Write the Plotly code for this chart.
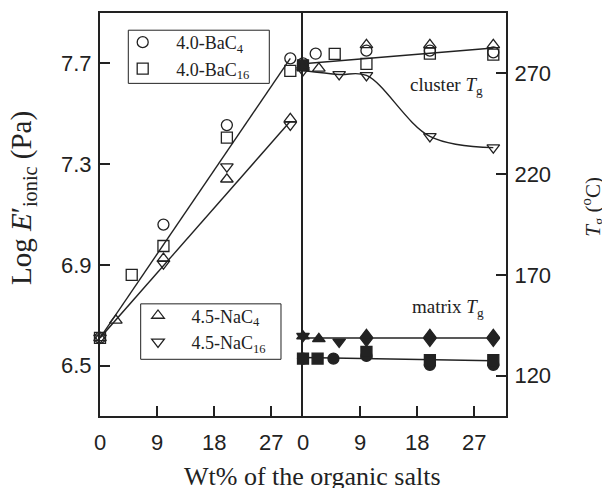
import plotly.graph_objects as go

# ---------------- data: left panel (Log E'ionic) ----------------
ba_c4_x = [0, 10, 20, 30]
ba_c4_logE = [6.61, 7.06, 7.455, 7.72]
ba_c16_x = [0, 5, 10, 20, 30]
ba_c16_logE = [6.61, 6.86, 6.975, 7.405, 7.67]
na_c4_x = [0, 2.5, 10, 20, 30]
na_c4_logE = [6.61, 6.68, 6.925, 7.24, 7.48]
na_c16_x = [0, 10, 20, 30]
na_c16_logE = [6.61, 6.905, 7.29, 7.456]
fit_x = [0, 30]
ba_fit_logE = [6.61, 7.72]
na_fit_logE = [6.61, 7.47]

# ---------------- data: right panel (Tg) ----------------
cl_ba_c4_x = [0, 2, 10, 20, 30]
cl_ba_c4_tg = [275, 279.8, 281.3, 281.3, 280.5]
cl_ba_c16_x = [0, 5, 10, 20, 30]
cl_ba_c16_tg = [274, 279.7, 274.8, 279.8, 279.3]
cl_na_c4_x = [0, 2.5, 10, 20, 30]
cl_na_c4_tg = [273, 272.5, 284.2, 284.2, 284.2]
cl_na_c16_x = [0, 5.7, 10, 20, 30]
cl_na_c16_tg = [271.5, 269.5, 269.0, 238.8, 233.2]
cl_fit_tg = [274.8, 282.6]

mx_ba_c4_x = [0, 4.8, 10, 20, 30]
mx_ba_c4_tg = [128.5, 128.5, 129.8, 125.4, 125.4]
mx_ba_c16_x = [0, 2.3, 10, 20, 30]
mx_ba_c16_tg = [128.5, 128.5, 131.8, 127.7, 127.7]
mx_na_c4_x = [0, 2.5, 10, 20, 30]
mx_na_c4_tg = [139.6, 138.3, 140.3, 140.3, 140.3]
mx_na_c16_x = [0, 5.7, 10, 20, 30]
mx_na_c16_tg = [139.6, 136.8, 137.3, 137.3, 137.3]
mx_top_fit_tg = [138.7, 138.7]
mx_bot_fit_tg = [129.0, 127.4]

x_ticks = [0, 9, 18, 27]
logE_ticks = [6.5, 6.9, 7.3, 7.7]
tg_ticks = [120, 170, 220, 270]

INK = "#222222"
SERIF = "Liberation Serif, Times New Roman, serif"
SANS = "Liberation Sans, Arial, sans-serif"
MS = 11

fig = go.Figure()


def line(x, y, xa, ya, shape="linear"):
    fig.add_trace(go.Scatter(x=x, y=y, mode="lines", xaxis=xa, yaxis=ya,
                             line=dict(color=INK, width=1.4, shape=shape),
                             showlegend=False, hoverinfo="skip"))


def pts(x, y, sym, xa, ya, name=None, legend=None):
    fig.add_trace(go.Scatter(
        x=x, y=y, mode="markers", xaxis=xa, yaxis=ya, name=name or "",
        showlegend=name is not None, legend=legend or "legend",
        cliponaxis=False,
        marker=dict(symbol=sym, size=MS, color=INK,
                    line=dict(color=INK, width=1.3))))


PAD = "&nbsp;&nbsp;&nbsp;"
# left panel
line(fit_x, ba_fit_logE, "x", "y")
line(fit_x, na_fit_logE, "x", "y")
pts(ba_c4_x, ba_c4_logE, "circle-open", "x", "y",
    PAD + "4.0-BaC<sub>4</sub>", "legend")
pts(ba_c16_x, ba_c16_logE, "square-open", "x", "y",
    PAD + "4.0-BaC<sub>16</sub>", "legend")
pts(na_c4_x, na_c4_logE, "triangle-up-open", "x", "y",
    PAD + "4.5-NaC<sub>4</sub>", "legend2")
pts(na_c16_x, na_c16_logE, "triangle-down-open", "x", "y",
    PAD + "4.5-NaC<sub>16</sub>", "legend2")

# right panel
line(fit_x, cl_fit_tg, "x2", "y2")
line(cl_na_c16_x, cl_na_c16_tg, "x2", "y2", shape="spline")
line(fit_x, mx_top_fit_tg, "x2", "y2")
line(fit_x, mx_bot_fit_tg, "x2", "y2")
pts(cl_ba_c4_x, cl_ba_c4_tg, "circle-open", "x2", "y2")
pts(cl_ba_c16_x, cl_ba_c16_tg,
    ["square"] + ["square-open"] * (len(cl_ba_c16_x) - 1), "x2", "y2")
pts(cl_na_c4_x, cl_na_c4_tg, "triangle-up-open", "x2", "y2")
pts(cl_na_c16_x, cl_na_c16_tg, "triangle-down-open", "x2", "y2")
pts(mx_ba_c4_x, mx_ba_c4_tg, "circle", "x2", "y2")
pts(mx_ba_c16_x, mx_ba_c16_tg, "square", "x2", "y2")
pts(mx_na_c4_x, mx_na_c4_tg, "triangle-up", "x2", "y2")
pts(mx_na_c16_x, mx_na_c16_tg, "triangle-down", "x2", "y2")

axis_common = dict(showline=True, linecolor=INK, linewidth=2,
                   ticks="inside", ticklen=10, tickwidth=2, tickcolor=INK,
                   showgrid=False, zeroline=False,
                   tickfont=dict(family=SANS, size=22, color=INK))

legend_style = dict(xanchor="left", yanchor="top",
                    bordercolor="rgba(0,0,0,0)", borderwidth=0,
                    bgcolor="rgba(0,0,0,0)",
                    font=dict(family=SERIF, size=18, color=INK),
                    tracegroupgap=0)

# the page body has an 8px margin: the figure is sized/offset to compensate
fig.update_layout(
    width=602, height=480,
    margin=dict(l=92, r=104, t=3, b=72),
    paper_bgcolor="white", plot_bgcolor="white",
    xaxis=dict(domain=[0, 0.5], range=[0, 32], tickvals=x_ticks,
               anchor="y", mirror=True, ticklabelstandoff=6, **axis_common),
    xaxis2=dict(domain=[0.5, 1], range=[0, 32], tickvals=x_ticks,
                anchor="y2", mirror=True, ticklabelstandoff=6, **axis_common),
    yaxis=dict(range=[6.3, 7.9], tickvals=logE_ticks, tickformat=".1f",
               anchor="x", mirror=False, ticklabelstandoff=2, **axis_common),
    yaxis2=dict(range=[100, 300], tickvals=tg_ticks, anchor="x2",
                side="right", mirror=True, ticklabelstandoff=2,
                **axis_common),
    legend=dict(x=0.0559, y=0.9728, **legend_style),
    legend2=dict(x=0.0936, y=0.2946, **legend_style),
    shapes=[
        dict(type="rect", xref="paper", yref="paper", layer="below",
             x0=0.0697, x1=0.417, y0=0.8254, y1=0.9573,
             line=dict(color=INK, width=1), fillcolor="white"),
        dict(type="rect", xref="paper", yref="paper", layer="below",
             x0=0.1002, x1=0.4458, y0=0.1407, y1=0.2783,
             line=dict(color=INK, width=1), fillcolor="white"),
    ],
    annotations=[
        dict(text="Wt% of the organic salts", xref="paper", yref="paper",
             x=0.524, y=-0.15, showarrow=False, xanchor="center",
             yanchor="middle", font=dict(family=SERIF, size=26, color=INK)),
        dict(text="Log <i>E</i>′<sub>ionic</sub> (Pa)", xref="paper",
             yref="paper", x=-0.188, y=0.54, showarrow=False, textangle=-90,
             xanchor="center", yanchor="middle",
             font=dict(family=SERIF, size=29, color=INK)),
        dict(text="<i>T</i><sub>g</sub> (<sup>o</sup>C)", xref="paper",
             yref="paper", x=1.214, y=0.519, showarrow=False, textangle=-90,
             xanchor="center", yanchor="middle",
             font=dict(family=SERIF, size=21, color=INK)),
        dict(text="cluster <i>T</i><sub>g</sub>", xref="x2", yref="y2",
             x=22.6, y=263.8, showarrow=False,
             font=dict(family=SERIF, size=19, color=INK)),
        dict(text="matrix <i>T</i><sub>g</sub>", xref="x2", yref="y2",
             x=22.8, y=153.7, showarrow=False,
             font=dict(family=SERIF, size=19, color=INK)),
    ],
)

fig.write_html("out.html")
